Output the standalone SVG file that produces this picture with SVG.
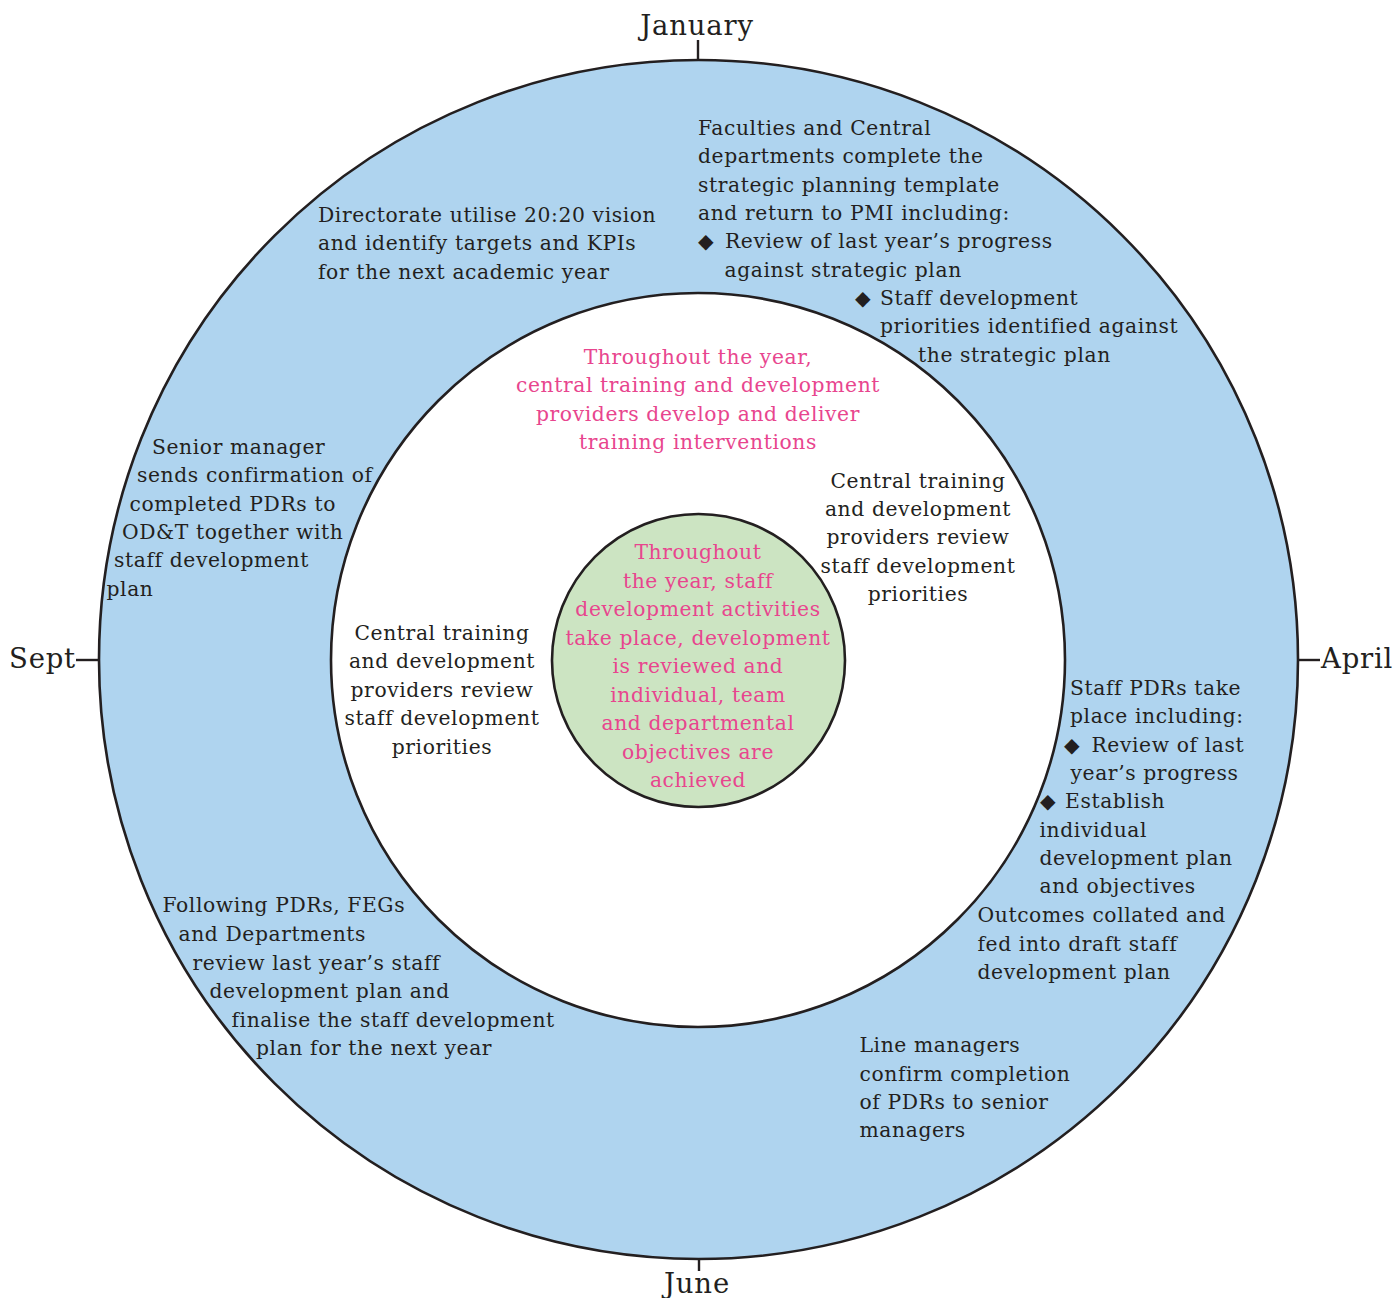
<svg xmlns="http://www.w3.org/2000/svg" width="1396" height="1298" viewBox="0 0 1396 1298">
<style>
.t{font-family:"DejaVu Serif","Liberation Serif",serif;font-size:20.3px;letter-spacing:0.6px;fill:#231F20}
.p{font-family:"DejaVu Serif","Liberation Serif",serif;font-size:20.3px;letter-spacing:0.6px;fill:#E8458E;text-anchor:middle}
.c{text-anchor:middle}
.m{font-family:"DejaVu Serif","Liberation Serif",serif;font-size:27.5px;letter-spacing:0.8px;fill:#231F20}
.ring{stroke:#231F20;stroke-width:2.6}
.tick{stroke:#231F20;stroke-width:2.4;fill:none}
</style>
<rect width="1396" height="1298" fill="#FFFFFF"/>
<g id="outer-ring"><circle class="ring" cx="698.5" cy="659.5" r="599.5" fill="#AFD4EF"/></g>
<g id="inner-ring"><circle class="ring" cx="698" cy="660" r="367" fill="#FFFFFF"/></g>
<g id="core"><circle class="ring" cx="698.5" cy="660.5" r="146.5" fill="#CCE4C2"/>
<text class="p"><tspan x="698" y="559">Throughout</tspan><tspan x="698" y="587.5">the year, staff</tspan><tspan x="698" y="616">development activities</tspan><tspan x="698" y="644.5">take place, development</tspan><tspan x="698" y="673">is reviewed and</tspan><tspan x="698" y="701.5">individual, team</tspan><tspan x="698" y="730">and departmental</tspan><tspan x="698" y="758.5">objectives are</tspan><tspan x="698" y="787">achieved</tspan></text>
</g>
<g id="connectors">
<line class="tick" x1="698" y1="40" x2="698" y2="60"/>
<line class="tick" x1="1298" y1="660" x2="1320" y2="660"/>
<line class="tick" x1="699" y1="1259" x2="699" y2="1271"/>
<line class="tick" x1="76" y1="660" x2="99" y2="660"/>
</g>
<g id="month-january"><text class="m c" x="697" y="35">January</text></g>
<g id="month-april"><text class="m" x="1321" y="668">April</text></g>
<g id="month-june"><text class="m c" x="697" y="1293">June</text></g>
<g id="month-sept"><text class="m" x="9" y="668">Sept</text></g>
<g id="node-directorate"><text class="t"><tspan x="318" y="222">Directorate utilise 20:20 vision</tspan><tspan x="318" y="250.3">and identify targets and KPIs</tspan><tspan x="318" y="278.6">for the next academic year</tspan></text></g>
<g id="node-faculties"><text class="t"><tspan x="698" y="135">Faculties and Central</tspan><tspan x="698" y="163.3">departments complete the</tspan><tspan x="698" y="191.7">strategic planning template</tspan><tspan x="698" y="220">and return to PMI including:</tspan><tspan x="698" y="248.3">◆</tspan><tspan x="725" y="248.3">Review of last year’s progress</tspan><tspan x="724.5" y="276.7">against strategic plan</tspan><tspan x="855" y="305">◆</tspan><tspan x="880" y="305">Staff development</tspan><tspan x="880" y="333.3">priorities identified against</tspan><tspan x="918" y="361.7">the strategic plan</tspan></text></g>
<g id="node-central-top"><text class="p"><tspan x="698" y="364">Throughout the year,</tspan><tspan x="698" y="392.4">central training and development</tspan><tspan x="698" y="420.8">providers develop and deliver</tspan><tspan x="698" y="449.2">training interventions</tspan></text></g>
<g id="node-central-right"><text class="t c"><tspan x="918" y="487.5">Central training</tspan><tspan x="918" y="515.9">and development</tspan><tspan x="918" y="544.3">providers review</tspan><tspan x="918" y="572.7">staff development</tspan><tspan x="918" y="601.1">priorities</tspan></text></g>
<g id="node-central-left"><text class="t c"><tspan x="442" y="640">Central training</tspan><tspan x="442" y="668.4">and development</tspan><tspan x="442" y="696.8">providers review</tspan><tspan x="442" y="725.2">staff development</tspan><tspan x="442" y="753.6">priorities</tspan></text></g>
<g id="node-senior"><text class="t"><tspan x="152" y="454">Senior manager</tspan><tspan x="137" y="482.3">sends confirmation of</tspan><tspan x="129.5" y="510.6">completed PDRs to</tspan><tspan x="122" y="538.9">OD&amp;T together with</tspan><tspan x="114" y="567.2">staff development</tspan><tspan x="106.5" y="595.5">plan</tspan></text></g>
<g id="node-staff-pdrs"><text class="t"><tspan x="1070" y="695">Staff PDRs take</tspan><tspan x="1070" y="723.3">place including:</tspan><tspan x="1064" y="751.7">◆</tspan><tspan x="1091.5" y="751.7">Review of last</tspan><tspan x="1070.5" y="780">year’s progress</tspan><tspan x="1040" y="808.3">◆</tspan><tspan x="1065" y="808.3">Establish</tspan><tspan x="1039.5" y="836.7">individual</tspan><tspan x="1039.5" y="865">development plan</tspan><tspan x="1039.5" y="893.3">and objectives</tspan><tspan x="977.5" y="922">Outcomes collated and</tspan><tspan x="977.5" y="950.5">fed into draft staff</tspan><tspan x="977.5" y="979">development plan</tspan></text></g>
<g id="node-line-managers"><text class="t"><tspan x="859.5" y="1052.3">Line managers</tspan><tspan x="859.5" y="1080.7">confirm completion</tspan><tspan x="859.5" y="1109">of PDRs to senior</tspan><tspan x="859.5" y="1137.3">managers</tspan></text></g>
<g id="node-following"><text class="t"><tspan x="162.5" y="912.3">Following PDRs, FEGs</tspan><tspan x="178.5" y="941">and Departments</tspan><tspan x="192.5" y="969.7">review last year’s staff</tspan><tspan x="209.5" y="998.3">development plan and</tspan><tspan x="231.5" y="1026.7">finalise the staff development</tspan><tspan x="256" y="1055">plan for the next year</tspan></text></g>
</svg>
